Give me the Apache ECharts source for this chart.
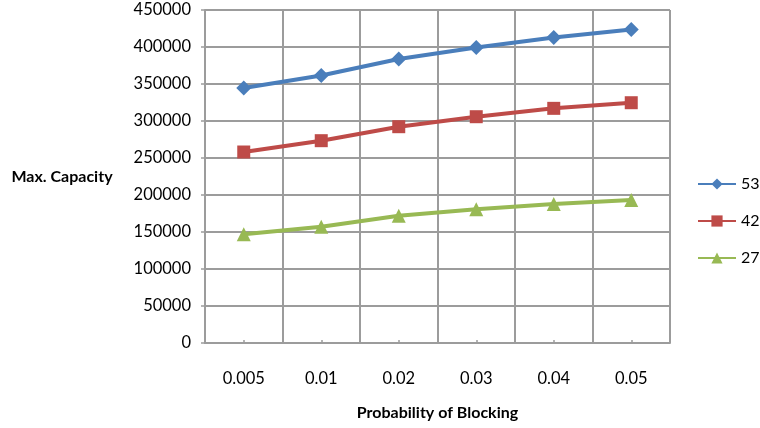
<!DOCTYPE html>
<html>
<head>
<meta charset="utf-8">
<script src="https://cdn.jsdelivr.net/npm/echarts@6/dist/echarts.min.js"></script>
<style>
  html, body { margin: 0; padding: 0; background: #fff; }
  #chart { width: 760px; height: 428px; }
</style>
</head>
<body>
<div id="chart"></div>
<script>
// Blocking probability on the x axis, maximum capacity per channel count
const categories = ['0.005', '0.01', '0.02', '0.03', '0.04', '0.05'];
const seriesNames = ['53', '42', '27'];
const values53 = [344600, 361500, 383800, 399300, 412800, 423600];
const values42 = [258100, 273400, 292300, 305800, 317100, 324700];
const values27 = [146900, 157200, 172000, 180600, 187800, 193200];

const colors = ['#4A7EBB', '#BE4B48', '#98B954'];
const symbols = ['diamond', 'rect', 'triangle'];
const symbolSizes = [15, 13, 14];
const font = 'Lato, "Liberation Sans", sans-serif';
const gridColor = '#9c9c9c';

const chart = echarts.init(document.getElementById('chart'), null, { renderer: 'canvas' });

const allValues = [values53, values42, values27];
const series = seriesNames.map((name, i) => ({
  name: name,
  type: 'line',
  data: allValues[i],
  symbol: symbols[i],
  symbolSize: symbolSizes[i],
  lineStyle: { width: 4, color: colors[i] },
  itemStyle: { color: colors[i] },
  animation: false
}));

chart.setOption({
  animation: false,
  grid: { left: 205, right: 90, top: 10, bottom: 85 },
  legend: {
    orient: 'vertical',
    left: 692,
    top: 171,
    padding: 5,
    itemGap: 21,
    itemWidth: 38,
    itemHeight: 14,
    data: seriesNames,
    textStyle: { fontFamily: font, fontSize: 16, color: '#000' }
  },
  xAxis: {
    type: 'category',
    data: categories,
    boundaryGap: true,
    name: 'Probability of Blocking',
    nameLocation: 'middle',
    nameGap: 62,
    nameTextStyle: { fontFamily: font, fontSize: 16, fontWeight: 'bold', color: '#000' },
    axisLine: { lineStyle: { color: gridColor, width: 2 } },
    axisTick: { show: true, alignWithLabel: true, inside: true, length: 3, lineStyle: { color: gridColor, width: 1.5 } },
    axisLabel: { fontFamily: font, fontSize: 16.5, color: '#000', margin: 27 },
    splitLine: { show: true, lineStyle: { color: gridColor, width: 2 } }
  },
  yAxis: {
    type: 'value',
    min: 0,
    max: 450000,
    interval: 50000,
    name: 'Max. Capacity',
    nameLocation: 'middle',
    nameRotate: 0,
    nameGap: 143,
    nameTextStyle: { fontFamily: font, fontSize: 16, fontWeight: 'bold', color: '#000', align: 'center', padding: [16, 0, 0, 0] },
    axisLine: { show: true, lineStyle: { color: gridColor, width: 2 } },
    axisTick: { show: true, length: 4, lineStyle: { color: gridColor, width: 1.5 } },
    axisLabel: { fontFamily: font, fontSize: 16.5, color: '#000', margin: 14, formatter: v => String(v) },
    splitLine: { show: true, lineStyle: { color: gridColor, width: 2 } }
  },
  series: series
});
</script>
</body>
</html>
